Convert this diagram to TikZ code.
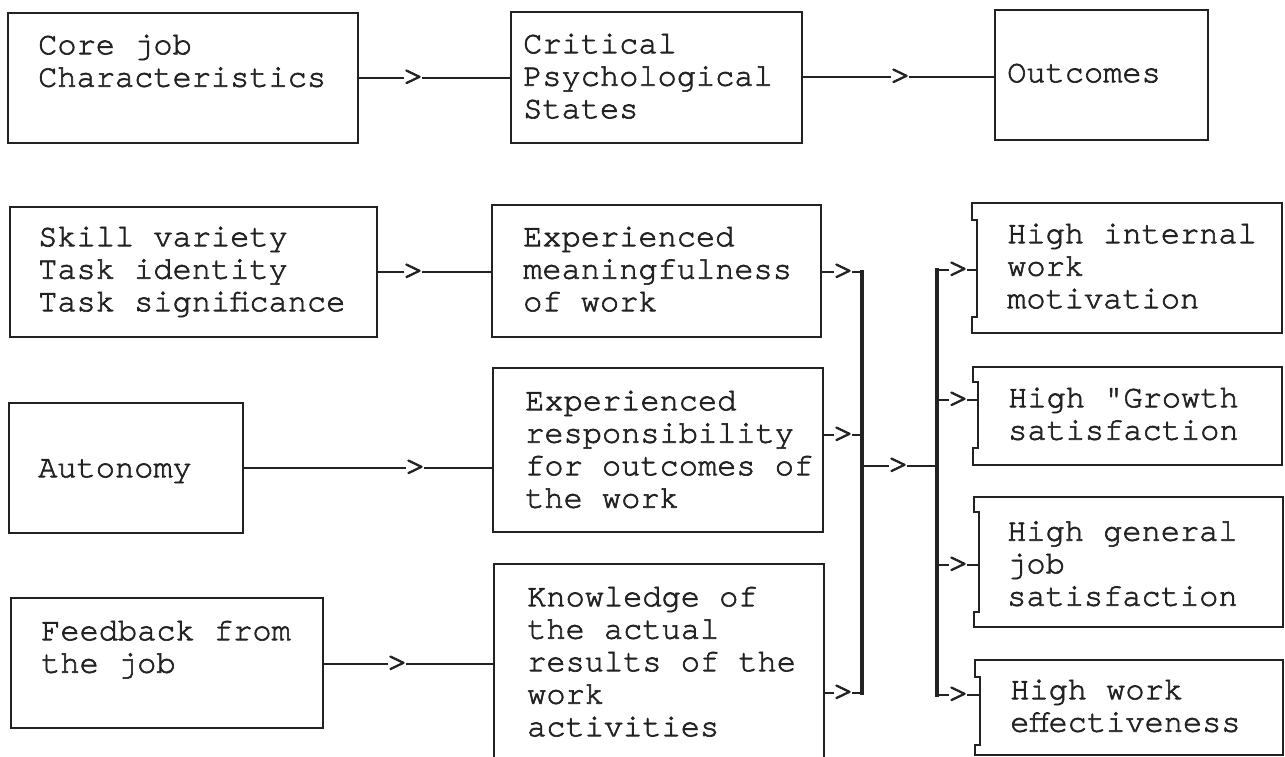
\documentclass[tikz,border=0pt]{standalone}
\usepackage{fontspec}
\newfontfamily\mono[FakeBold=2]{TeX Gyre Cursor}
\usetikzlibrary{fit,calc}
\definecolor{ink}{HTML}{222222}
\begin{document}
\begin{tikzpicture}[x=1pt,y=-1pt,
  box/.style={draw=ink, line width=2.4pt, inner sep=0pt},
  shell/.style={inner sep=0pt},
  frame/.style={draw=ink, line width=2.4pt, line join=miter},
  txt/.style={font=\mono\fontsize{32}{32.5}\selectfont, text=ink, align=left,
              inner sep=0pt, anchor=north west},
  gt/.style={font=\mono\fontsize{37}{37}\selectfont, text=ink, inner ysep=0pt, inner xsep=-2.5pt},
  link/.style={draw=ink, line width=2.2pt},
  bus/.style={draw=ink, line width=4pt, line cap=rect},
]
\useasboundingbox (0,0) rectangle (1285,756);
\clip (0,0) rectangle (1285,756);
\fill[white] (0,0) rectangle (1285,756);

% outcome boxes: left side typed with an indented middle stretch
\newcommand\jogframe[3]{%
  \draw[frame] ($(#1.south west)+(0,-#3)$) -- (#1.south west) -- (#1.south east)
    -- (#1.north east) -- (#1.north west) -- ($(#1.north west)+(0,#2)$)
    -- ++(5,0) -- ($(#1.south west)+(5,-#3)$) -- ++(-5,0) -- cycle;}

% ---- header row ----
\node[box, fit={(8,13) (358,143)}] (A) {};
\node[box, fit={(511,12) (802,143)}] (B) {};
\node[box, fit={(995,10) (1208,140)}] (C) {};
\node[txt] (A-t) at (38,31.25) {\strut Core job\\\strut Characteristics};
\node[txt] (B-t) at (523,30.25) {\strut Critical\\\strut Psychological\\\strut States};
\node[txt] (C-t) at (1007,59.25) {\strut Outcomes};

\node[gt] (q1) at (413,78) {>};
\node[gt] (q2) at (900,77) {>};
\draw[link] (A.east |- q1) -- (q1) -- (B.west |- q1);
\draw[link] (B.east |- q2) -- (q2) -- (C.west |- q2);

% ---- core job characteristics ----
\node[box, fit={(10,207) (377,337)}] (S) {};
\node[box, fit={(9,403) (243,533)}] (Au) {};
\node[box, fit={(11,598) (323,728)}] (F) {};
\node[txt] (S-t) at (38,223.25) {\strut Skill variety\\\strut Task identity\\\strut Task significance};
\node[txt] (Au-t) at (38,454.25) {\strut Autonomy};
\node[txt] (F-t) at (41,617.25) {\strut Feedback from\\\strut the job};

% ---- critical psychological states ----
\node[box, fit={(492,205) (821,337)}] (M) {};
\node[box, fit={(493,368) (823,532)}] (R) {};
\node[box, fit={(494,564) (824,790)}] (K) {};
\node[txt] (M-t) at (523,223.25) {\strut Experienced\\\strut meaningfulness\\\strut of work};
\node[txt] (R-t) at (525,387.25) {\strut Experienced\\\strut responsibility\\\strut for outcomes of\\\strut the work};
\node[txt] (K-t) at (527,583.25) {\strut Knowledge of\\\strut the actual\\\strut results of the\\\strut work\\\strut activities};

\node[gt] (q3) at (413,272) {>};
\node[gt] (q4) at (415,468) {>};
\node[gt] (q5) at (397,664) {>};
\draw[link] (S.east |- q3) -- (q3) -- (M.west |- q3);
\draw[link] (Au.east |- q4) -- (q4) -- (R.west |- q4);
\draw[link] (F.east |- q5) -- (q5) -- (K.west |- q5);

% ---- outcomes ----
\node[shell, fit={(972,203) (1282,333)}] (I) {};
\node[shell, fit={(973,367) (1282,465)}] (G) {};
\node[shell, fit={(974,497) (1283,627)}] (J) {};
\node[shell, fit={(975,660) (1283,755)}] (E) {};
\jogframe{I}{17}{16}
\jogframe{G}{15}{17}
\jogframe{J}{15}{15}
\jogframe{E}{17}{10}
\node[txt] (I-t) at (1007,220.25) {\strut High internal\\\strut work\\\strut motivation};
\node[txt] (G-t) at (1008,384.25) {\strut High "Growth\\\strut satisfaction};
\node[txt] (J-t) at (1007,517.75) {\strut High general\\\strut job\\\strut satisfaction};
\node[txt] (E-t) at (1010,676.25) {\strut High work\\\strut effectiveness};

% ---- collecting and distributing bars ----
\coordinate (b1t) at (862,272);
\coordinate (b1b) at (862,693);
\coordinate (b2t) at (937,270);
\coordinate (b2b) at (937,695);
\draw[bus] (b1t) -- (b1b);
\draw[bus] (b2t) -- (b2b);

\node[gt] (m1) at (843,272) {>};
\node[gt] (m2) at (843,435) {>};
\node[gt] (m3) at (843,693) {>};
\draw[link] (M.east |- m1) -- (m1) -- (b1t);
\draw[link] (R.east |- m2) -- (m2) -- (m2 -| b1t);
\draw[link] (K.east |- m3) -- (m3) -- (b1b);

\node[gt] (c1) at (898,466) {>};
\draw[link] (b1t |- c1) -- (c1) -- (b2t |- c1);

\node[gt] (r1) at (958,270) {>};
\node[gt] (r2) at (958,400) {>};
\node[gt] (r3) at (958,565) {>};
\node[gt] (r4) at (958,695) {>};
\draw[link] (b2t) -- (r1) -- ($(I.west |- r1)+(5,0)$);
\draw[link] (b2t |- r2) -- (r2) -- ($(G.west |- r2)+(5,0)$);
\draw[link] (b2t |- r3) -- (r3) -- ($(J.west |- r3)+(5,0)$);
\draw[link] (b2b) -- (r4) -- ($(E.west |- r4)+(5,0)$);
\end{tikzpicture}
\end{document}
